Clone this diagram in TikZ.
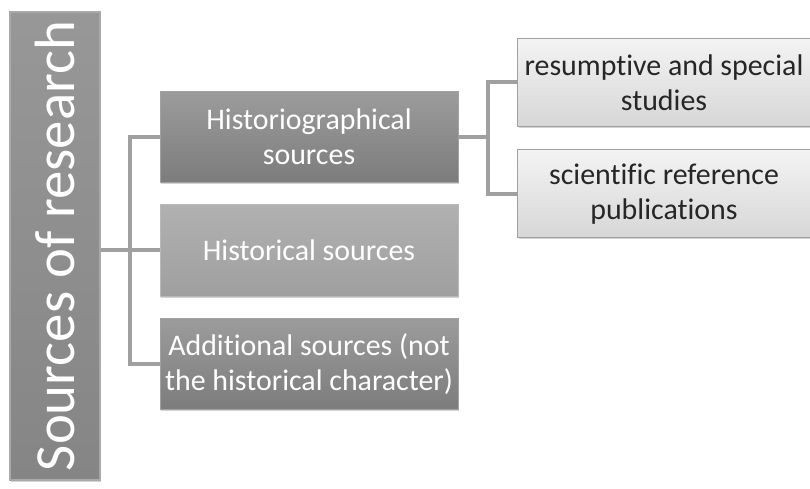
\documentclass[tikz,border=0pt]{standalone}
\usepackage{fontspec}
\setmainfont{Carlito}[Ligatures=NoCommon]
\usetikzlibrary{shadows}
\definecolor{rootgrey}{RGB}{140,140,140}
\definecolor{darkgrey}{RGB}{138,138,138}
\definecolor{midgrey}{RGB}{168,168,168}
\definecolor{lightgrey}{RGB}{226,226,226}
\definecolor{linegrey}{RGB}{160,160,160}
\tikzset{
	box/.style={rectangle, inner sep=2bp, align=center, font=\fontsize{30}{35}\selectfont,
		drop shadow={opacity=0.35, shadow xshift=1.2bp, shadow yshift=-1.5bp}},
	darkbox/.style={box, draw=darkgrey!80!white, line width=1bp, text=white,
		top color=darkgrey!85!white, bottom color=darkgrey!90!black,
		minimum width=298bp, minimum height=91bp},
	midbox/.style={box, draw=midgrey!80!white, line width=1bp, text=white,
		top color=midgrey!90!white, bottom color=midgrey!95!black,
		minimum width=298bp, minimum height=91bp},
	lightbox/.style={box, draw=linegrey, line width=1bp, text=black!85,
		top color=lightgrey!40!white, bottom color=lightgrey!95!black,
		minimum width=293bp, minimum height=88bp},
	rootbox/.style={box, draw=rootgrey!75!white, line width=1.5bp, text=white,
		top color=rootgrey!90!white, bottom color=rootgrey!95!black,
		minimum width=90bp, minimum height=468bp, font=\fontsize{57}{64}\selectfont},
	conn/.style={draw=linegrey, line width=4bp}
}
\begin{document}
\begin{tikzpicture}[x=1bp, y=-1bp]
	\useasboundingbox (0,0) rectangle (810,489);
	% boxes
	\node[rootbox] (root) at (55,246) {\rotatebox{90}{Sources of research}};
	\node[darkbox] (hgr) at (309,137) {Historiographical\\sources};
	\node[midbox] (hist) at (309,250.5) {Historical sources};
	\node[darkbox] (add) at (309,364) {Additional sources (not\\the historical character)};
	\node[lightbox] (res) at (664,82.5) {resumptive and special\\studies};
	\node[lightbox] (sci) at (664,194) {scientific reference\\publications};
	% connectors
	\coordinate (t1) at (130,250.5);
	\coordinate (t2) at (488,137);
	\draw[conn] (root.east |- t1) -- (hist.west);
	\draw[conn] (hgr.west) -| (t1) |- (add.west);
	\draw[conn] (hgr.east) -- (t2);
	\draw[conn] (res.west) -| (t2) |- (sci.west);
\end{tikzpicture}
\end{document}
